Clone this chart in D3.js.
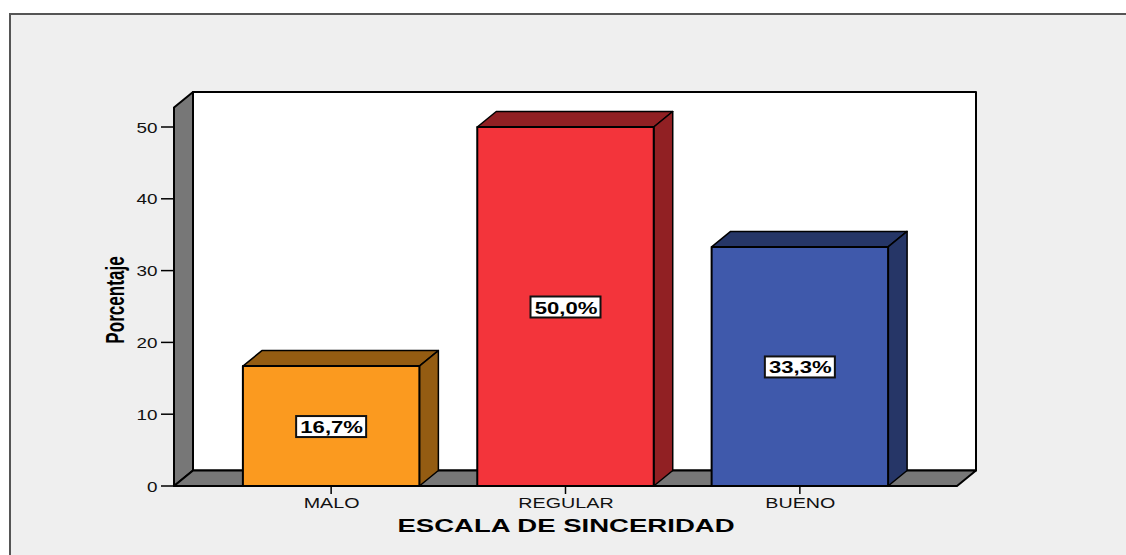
<!DOCTYPE html>
<html><head><meta charset="utf-8">
<script src="https://cdn.jsdelivr.net/npm/d3@7"></script>
<style>html,body{margin:0;padding:0;background:#fff}svg{display:block}</style>
</head><body><svg id="c" width="1126" height="555"></svg>
<script>
const categories = ["MALO","REGULAR","BUENO"];
const values = [16.7,50.0,33.3];
const valueLabels = ["16,7%","50,0%","33,3%"];
const faceColors = ["#FB9A1F","#F3343B","#3F59AB"];
const sideColors = ["#945C12","#912023","#263667"];
const yTicks = [0,10,20,30,40,50];
const xTitle = "ESCALA DE SINCERIDAD";
const yTitle = "Porcentaje";

const svg = d3.select("#c");
const font = "'Liberation Sans',Arial,sans-serif";
const dx = 19, dy = 15.5;
const y = d3.scaleLinear().domain([0,50]).range([486,127]);
const x = d3.scaleBand().domain(categories).range([174,957]).paddingInner(0.247).paddingOuter(0.294);

svg.append("rect").attr("x",10).attr("y",14).attr("width",1200).attr("height",600)
  .attr("fill","#EFEFEF").attr("stroke","#555").attr("stroke-width",2);

const poly = (pts,fill,sw=2)=>svg.append("polygon").attr("points",pts.map(p=>p.join(",")).join(" "))
  .attr("fill",fill).attr("stroke","#000").attr("stroke-width",sw).attr("stroke-linejoin","round");
const label = (px,py,sx,str,size,weight,anchor,color)=>svg.append("text")
  .attr("transform",`translate(${px},${py}) scale(${sx},1)`).attr("text-anchor",anchor)
  .attr("font-family",font).attr("font-weight",weight).attr("font-size",size).attr("fill",color).text(str);

const L=x.range()[0], R=x.range()[1], B=y(0), T=92;
poly([[L+dx,T],[R+dx,T],[R+dx,B-dy],[L+dx,B-dy]],"#fff");
poly([[L,T+dy],[L+dx,T],[L+dx,B-dy],[L,B]],"#777777");
poly([[L,B],[L+dx,B-dy],[R+dx,B-dy],[R,B]],"#777777");

categories.forEach((c,i)=>{
  const x0=x(c), x1=x0+x.bandwidth(), yt=y(values[i]);
  poly([[x0,yt],[x0+dx,yt-dy],[x1+dx,yt-dy],[x1,yt]],sideColors[i],1.5);
  poly([[x1,yt],[x1+dx,yt-dy],[x1+dx,B-dy],[x1,B]],sideColors[i],1.5);
  poly([[x0,yt],[x1,yt],[x1,B],[x0,B]],faceColors[i]);
  const cx=(x0+x1)/2, cy=y(values[i]/2);
  svg.append("rect").attr("x",cx-35).attr("y",cy-10).attr("width",70).attr("height",21)
    .attr("fill","#fff").attr("stroke","#111").attr("stroke-width",2);
  label(cx+0.5,cy+7,1.3,valueLabels[i],17,"bold","middle","#000");
  svg.append("line").attr("x1",cx).attr("x2",cx).attr("y1",B).attr("y2",B+8).attr("stroke","#000").attr("stroke-width",1.5);
  label(cx+0.5,B+22,1.36,c,14.5,"normal","middle","#111");
});

yTicks.forEach(t=>{
  svg.append("line").attr("x1",L-13).attr("x2",L).attr("y1",y(t)).attr("y2",y(t)).attr("stroke","#000").attr("stroke-width",1.5);
  label(L-16.5,y(t)+5.5,1.3,t,14.5,"normal","end","#111");
});

label(566,532,1.45,xTitle,19,"bold","middle","#000");
svg.append("text").attr("transform","translate(124,300) rotate(-90) scale(0.95,1.42)").attr("text-anchor","middle")
  .attr("font-family",font).attr("font-weight","bold").attr("font-size",18).attr("fill","#000").text(yTitle);
</script></body></html>
